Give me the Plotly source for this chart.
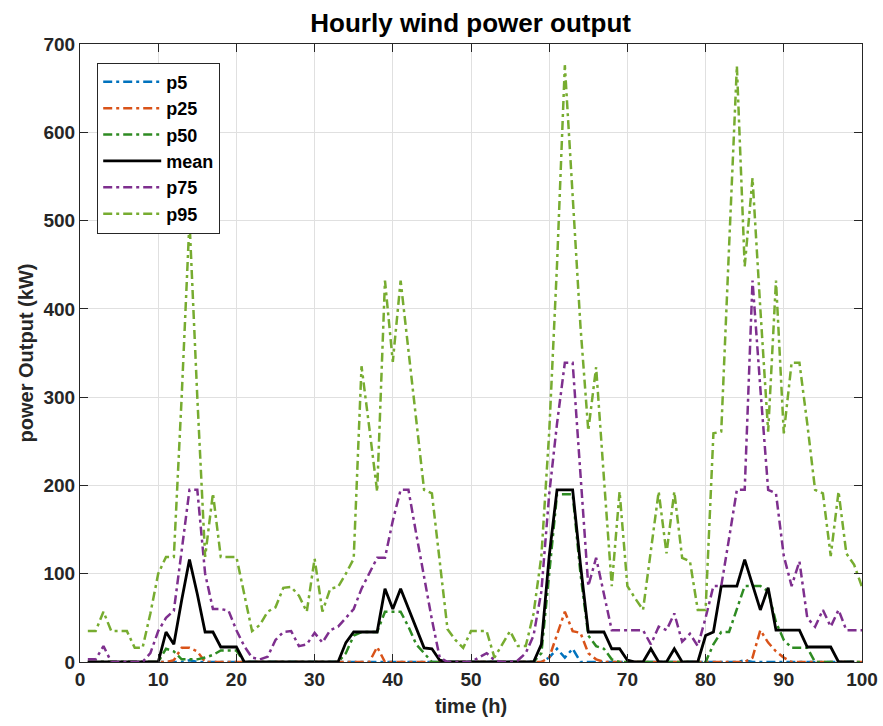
import plotly.graph_objects as go

hours = list(range(1, 101))

p5 = [0]*13 + [2] + [0]*45 + [5, 15, 5, 15] + [0]*21 + [2] + [0]*14

p25 = ([0]*11 + [2, 16, 16, 12, 0] + [0]*21 + [17] + [0]*21
       + [5, 30, 57, 35, 33, 10, 3] + [0]*19 + [5, 36, 22, 12, 5] + [0]*11)

p50 = ([0]*10 + [15, 12, 3, 3, 3, 5, 8, 13, 13, 13] + [0]*13
       + [10, 30, 34, 34, 34, 57, 57, 57, 40, 20, 10] + [0]*14
       + [10, 100, 190, 190, 190, 100, 30, 18, 15, 3] + [0]*12
       + [20, 34, 34, 60, 86, 86, 86, 80, 45, 25, 16, 16, 16] + [0]*7)

mean = ([0]*9 + [0, 34, 20, 70, 116, 77, 34, 34, 17, 17, 17] + [0]*13
        + [22, 34, 34, 34, 34, 83, 60, 83, 60, 38, 16, 15, 2] + [0]*12
        + [20, 120, 195, 195, 195, 110, 34, 34, 34, 15, 15, 2, 0, 0, 15, 0, 0, 15, 0, 0, 0]
        + [30, 34, 86, 86, 86, 116, 86, 59, 84, 36, 36, 36, 36, 17, 17, 17, 17, 0, 0, 0])

p75 = [3, 3, 18, 0, 0, 0, 0, 0, 10, 35,
       50, 58, 126, 195, 195, 100, 60, 60, 58, 36,
       18, 5, 3, 6, 25, 34, 35, 18, 20, 33,
       22, 36, 40, 50, 60, 83, 100, 118, 118, 160,
       195, 195, 145, 95, 48, 5, 0, 0, 0, 0,
       5, 10, 2, 0, 0, 2, 10, 30, 80, 190,
       270, 339, 339, 210, 86, 118, 75, 36, 36, 36,
       36, 36, 20, 40, 36, 55, 23, 32, 18, 50,
       86, 86, 140, 195, 195, 432, 310, 195, 191, 120,
       86, 114, 50, 40, 59, 40, 59, 36, 36, 36]

p95 = [35, 35, 57, 35, 35, 35, 16, 16, 55, 100,
       119, 119, 300, 500, 300, 119, 191, 119, 119, 119,
       77, 35, 42, 57, 62, 84, 85, 75, 57, 117,
       57, 83, 85, 100, 117, 335, 265, 193, 432, 340,
       432, 353, 274, 195, 191, 114, 37, 25, 16, 35,
       35, 35, 5, 20, 35, 18, 18, 55, 120, 260,
       450, 676, 530, 380, 262, 334, 208, 86, 193, 86,
       72, 59, 126, 193, 123, 193, 118, 114, 59, 59,
       259, 261, 470, 675, 448, 548, 400, 261, 432, 259,
       339, 339, 270, 195, 191, 120, 193, 123, 110, 85]

series = [
    ("p5", p5, "#0072BD", "dashdot"),
    ("p25", p25, "#D95319", "dashdot"),
    ("p50", p50, "#2E8B22", "dashdot"),
    ("mean", mean, "#000000", "solid"),
    ("p75", p75, "#7E2F8E", "dashdot"),
    ("p95", p95, "#77AC30", "dashdot"),
]

FONT = "Arial, 'Liberation Sans', Helvetica, sans-serif"

fig = go.Figure()
for name, vals, color, dash in series:
    fig.add_trace(go.Scatter(
        x=hours, y=vals, mode="lines", name=name,
        line=dict(color=color, width=2.8 if dash == "solid" else 2.5,
                  dash="9px,4px,3px,4px" if dash == "dashdot" else "solid"),
    ))

axis_common = dict(
    showline=True, linecolor="#262626", linewidth=1, mirror="ticks",
    ticks="inside", ticklen=8, tickcolor="#262626", automargin=False,
    showgrid=True, gridcolor="#e0e0e0", gridwidth=1, zeroline=False,
    tickfont=dict(family=FONT, size=19, color="#262626", weight="bold"),
)

fig.update_layout(
    width=883, height=726,
    margin=dict(l=80, r=21, t=44, b=64),
    paper_bgcolor="white", plot_bgcolor="white",
    title=dict(text="<b>Hourly wind power output</b>", x=0.533, xanchor="center",
               y=0.968, yanchor="middle",
               font=dict(family=FONT, size=26, color="black")),
    xaxis=dict(range=[0, 100], dtick=10,
               title=dict(text="<b>time (h)</b>", standoff=10,
                          font=dict(family=FONT, size=20, color="#262626")),
               **axis_common),
    yaxis=dict(range=[0, 700], dtick=100,
               title=dict(text="<b>power Output (kW)</b>", standoff=4,
                          font=dict(family=FONT, size=20, color="#262626")),
               **axis_common),
    legend=dict(x=0.022, y=0.97, xanchor="left", yanchor="top",
                bgcolor="white", bordercolor="#262626", borderwidth=1,
                font=dict(family=FONT, size=18, color="black", weight="bold"),
                itemwidth=58, tracegroupgap=0),
    showlegend=True,
)

fig.write_html("out.html")
